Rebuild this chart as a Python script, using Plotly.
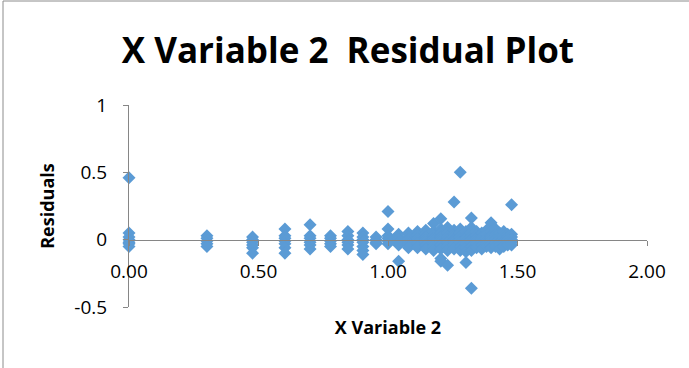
import plotly.graph_objects as go

# X values (columns)
col_x = [0.000, 0.301, 0.477, 0.602, 0.699, 0.778, 0.845, 0.903, 0.954, 1.000,
         1.041, 1.079, 1.114, 1.146, 1.176, 1.204, 1.230, 1.255, 1.279, 1.301,
         1.322, 1.342, 1.362, 1.380, 1.398, 1.415, 1.431, 1.447, 1.462, 1.477]

# Residuals for each column
col_residuals = [
    [0.46, 0.05, 0.02, 0.0, -0.02, -0.03, -0.05],
    [0.03, 0.01, -0.01, -0.03, -0.05],
    [0.02, 0.0, -0.02, -0.04, -0.06, -0.10],
    [0.08, 0.03, 0.01, -0.01, -0.03, -0.06, -0.10],
    [0.11, 0.03, 0.01, -0.02, -0.04, -0.07],
    [0.03, 0.01, -0.01, -0.03, -0.05],
    [0.06, 0.03, 0.0, -0.02, -0.04, -0.07],
    [0.05, 0.02, 0.0, -0.02, -0.05, -0.08, -0.11],
    [0.02, 0.0, -0.02, -0.03],
    [0.21, 0.08, 0.03, 0.01, -0.01, -0.03],
    [0.04, 0.02, 0.0, -0.02, -0.04, -0.16],
    [0.05, 0.02, 0.0, -0.02, -0.04, -0.06],
    [0.06, 0.03, 0.01, -0.01, -0.03, -0.06],
    [0.07, 0.04, 0.02, 0.0, -0.02, -0.04, -0.07],
    [0.12, 0.06, 0.03, 0.01, -0.01, -0.03, -0.05, -0.08],
    [0.155, 0.08, 0.05, 0.02, 0.0, -0.02, -0.04, -0.07, -0.14, -0.16],
    [0.09, 0.05, 0.02, 0.0, -0.02, -0.05, -0.08, -0.19],
    [0.28, 0.07, 0.04, 0.02, 0.0, -0.02, -0.04, -0.07],
    [0.50, 0.08, 0.05, 0.02, 0.0, -0.02, -0.05, -0.08],
    [0.06, 0.03, 0.01, -0.01, -0.03, -0.06, -0.09, -0.17],
    [0.16, 0.09, 0.05, 0.02, 0.0, -0.02, -0.05, -0.08, -0.36],
    [0.06, 0.03, 0.01, -0.01, -0.03, -0.06],
    [0.05, 0.02, 0.0, -0.02, -0.04, -0.07],
    [0.07, 0.04, 0.01, -0.01, -0.03, -0.05],
    [0.125, 0.06, 0.03, 0.01, -0.01, -0.04, -0.06],
    [0.08, 0.04, 0.02, 0.0, -0.02, -0.05],
    [0.05, 0.02, 0.0, -0.02, -0.04, -0.07],
    [0.06, 0.03, 0.01, -0.01, -0.03, -0.05],
    [0.04, 0.02, 0.0, -0.02, -0.04],
    [0.26, 0.04, 0.02, 0.0, -0.02, -0.04],
]

x_tick_vals = [0, 0.5, 1.0, 1.5, 2.0]
x_tick_text = ["0.00", "0.50", "1.00", "1.50", "2.00"]
y_tick_vals = [-0.5, 0, 0.5, 1]
y_tick_text = ["-0.5", "0", "0.5", "1"]

xs, ys = [], []
for cx, rs in zip(col_x, col_residuals):
    for r in rs:
        xs.append(cx)
        ys.append(r)

FONT = "Open Sans"
AXIS = "#868686"

fig = go.Figure()
fig.add_trace(go.Scatter(
    x=xs, y=ys, mode="markers",
    marker=dict(symbol="diamond", size=10, color="#5B9BD5", line=dict(width=0)),
    cliponaxis=False, showlegend=False,
))

L, R, T, B = 129, 42, 105, 61
W, H = 689, 368
pw, ph = W - L - R, H - T - B

fig.update_layout(
    width=W, height=H,
    margin=dict(l=L, r=R, t=T, b=B),
    paper_bgcolor="white", plot_bgcolor="white",
    font=dict(family=FONT, color="#000000"),
    title=dict(text="X Variable 2\u00a0\u00a0Residual Plot",
               font=dict(family=FONT, size=35, color="#000000", weight="bold"),
               x=0.505, xanchor="center", y=1 - 51 / H, yanchor="middle"),
    xaxis=dict(range=[0, 2], tickvals=x_tick_vals, ticktext=x_tick_text,
               showgrid=False, zeroline=False, showline=True, linecolor=AXIS, linewidth=1,
               ticks="outside", ticklen=5, tickcolor=AXIS,
               anchor="free", position=1 / 3, ticklabelstandoff=10,
               tickfont=dict(family=FONT, size=19, color="#000000"),
               title=dict(text="X Variable 2", standoff=37,
                          font=dict(family=FONT, size=18, color="#000000", weight="bold"))),
    yaxis=dict(range=[-0.5, 1], tickvals=y_tick_vals, ticktext=y_tick_text,
               showgrid=False, zeroline=False, showline=True, linecolor=AXIS, linewidth=1,
               ticks="outside", ticklen=5, tickcolor=AXIS, ticklabelstandoff=12,
               tickfont=dict(family=FONT, size=19, color="#000000"),
               title=dict(text="Residuals", standoff=15,
                          font=dict(family=FONT, size=18, color="#000000", weight="bold"))),
    shapes=[dict(type="rect", xref="paper", yref="paper",
                 x0=(3 - L) / pw, x1=(W + 20 - L) / pw,
                 y0=-(B + 20) / ph, y1=(H - 1 - B) / ph,
                 line=dict(color="#8c8c8c", width=1), fillcolor="rgba(0,0,0,0)", layer="below")],
)

fig.write_html("out.html", config={"displayModeBar": False},
               post_script="document.body.style.margin='0';document.body.style.overflow='hidden';")
